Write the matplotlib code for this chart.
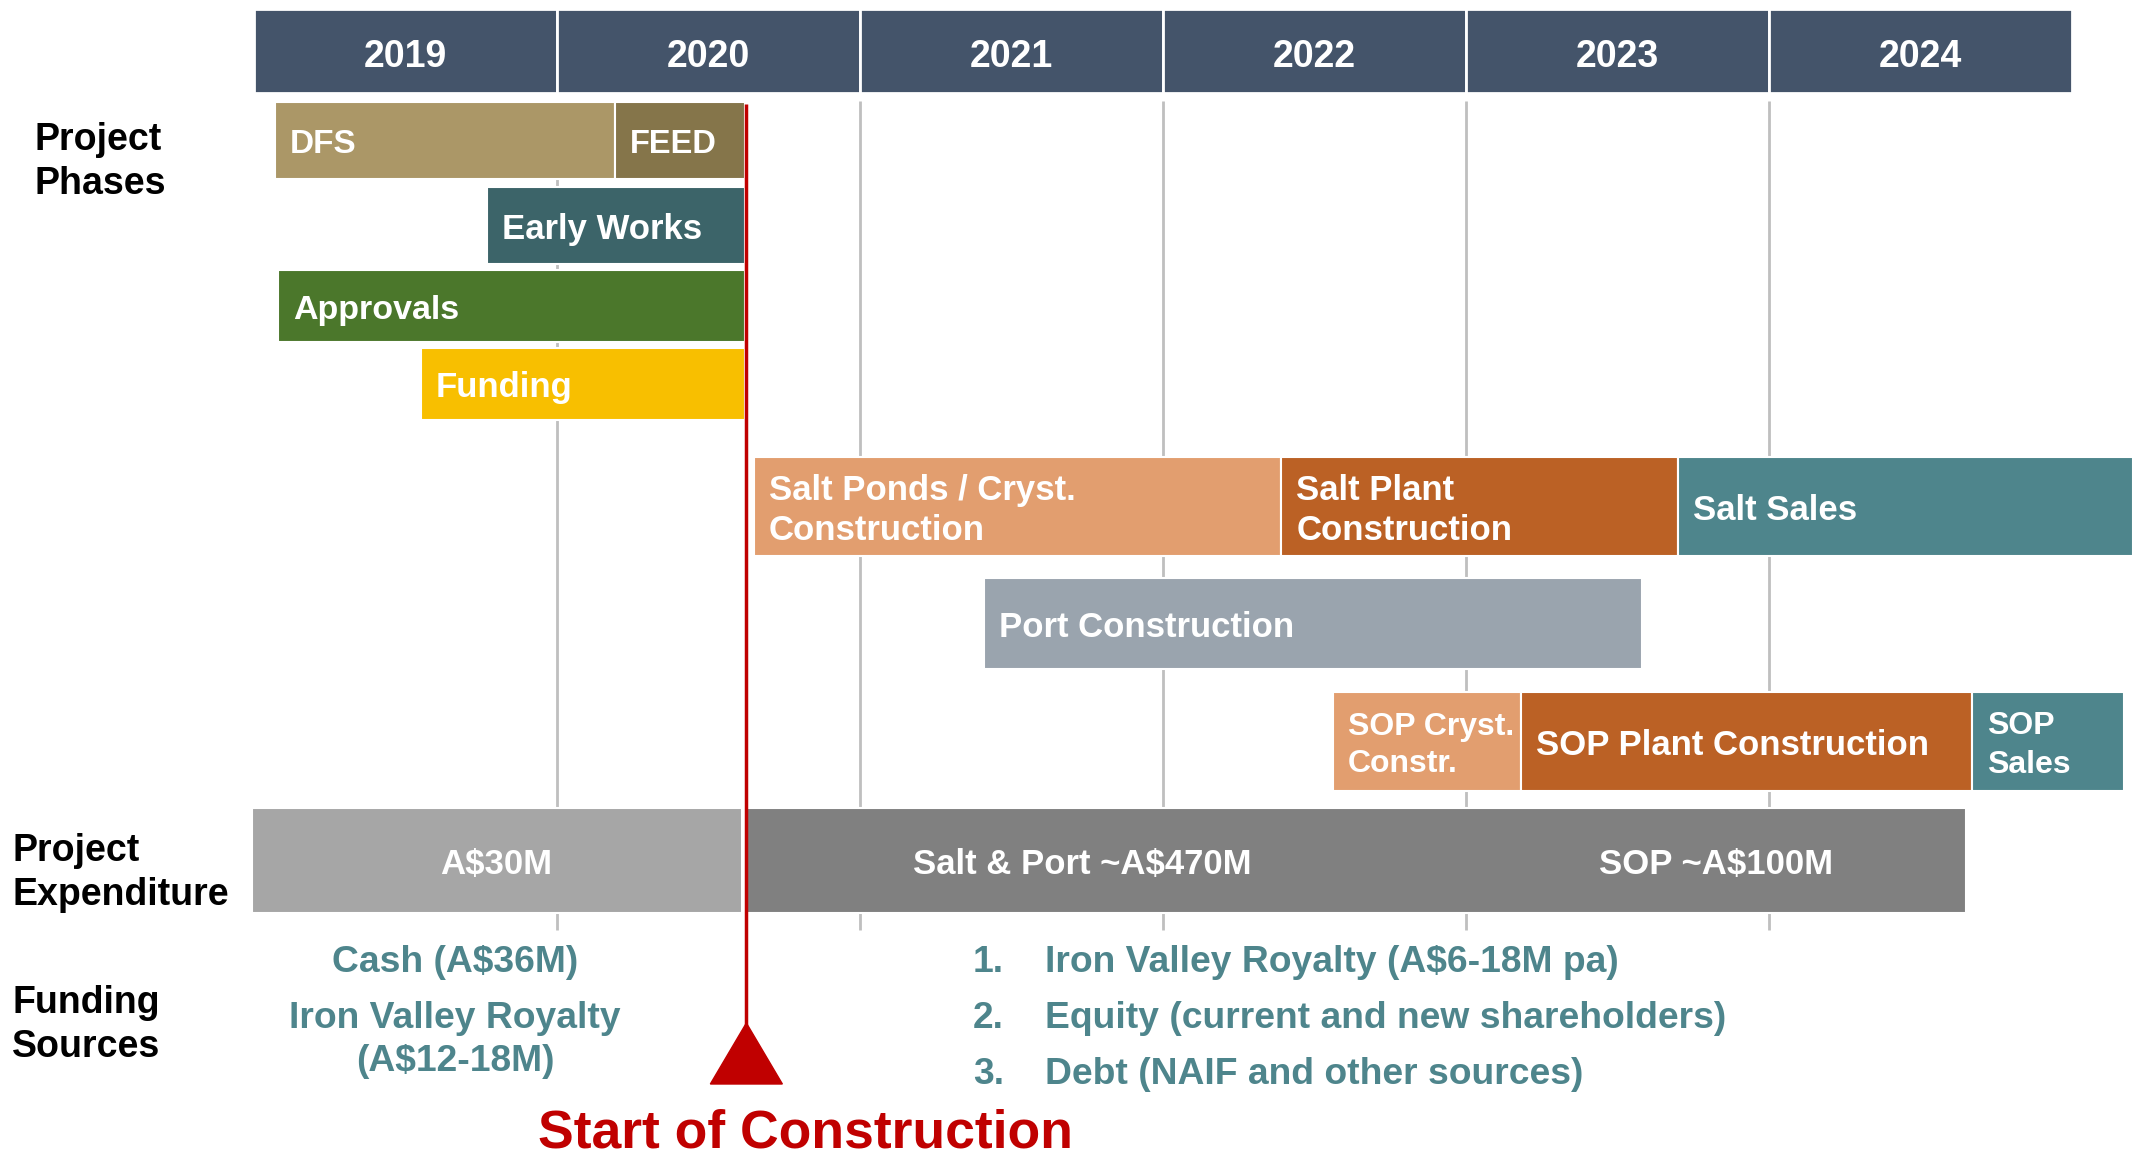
import matplotlib
matplotlib.use("Agg")
import matplotlib.pyplot as plt
from matplotlib.patches import Polygon

plt.rcParams['font.family'] = ['Liberation Sans', 'DejaVu Sans']
plt.rcParams['font.weight'] = 'bold'

# ---------------- data ----------------
years = [2019, 2020, 2021, 2022, 2023, 2024]

phase_labels = ["DFS", "FEED", "Early Works", "Approvals", "Funding",
                "Salt Ponds / Cryst.\nConstruction", "Salt Plant\nConstruction", "Salt Sales",
                "Port Construction",
                "SOP Cryst.\nConstr.", "SOP Plant Construction", "SOP\nSales"]
phase_start = [2019.07, 2020.19, 2019.77, 2019.08, 2019.55,
               2020.65, 2022.39, 2023.70,
               2021.41,
               2022.56, 2023.18, 2024.67]
phase_end = [2020.19, 2020.62, 2020.62, 2020.62, 2020.62,
             2022.39, 2023.70, 2025.20,
             2023.58,
             2023.18, 2024.67, 2025.17]
phase_row = [0, 0, 1, 2, 3, 4, 4, 4, 5, 6, 6, 6]
phase_colors = ["#AB9767", "#85754A", "#3C6469", "#4B772B", "#F8BF00",
                "#E29E6F", "#BB6125", "#4E858C",
                "#9AA4AE",
                "#E29E6F", "#BB6125", "#4E858C"]
phase_fontsize = [24, 23.5, 25, 24.5, 25, 25, 25, 25, 25, 23, 25, 23]
phase_linespacing = [1.3, 1.3, 1.3, 1.3, 1.3, 1.3, 1.3, 1.3, 1.3, 1.3, 1.3, 1.42]

exp_labels = ["A$30M", "Salt & Port ~A$470M", "SOP ~A$100M"]
exp_start = [2018.995, 2020.625]
exp_end = [2020.61, 2024.65]
exp_colors = ["#A6A6A6", "#808080"]
exp_label_x = [2019.80, 2021.735, 2023.825]

construction_start = 2020.625

funding_early = ["Cash (A$36M)", "Iron Valley Royalty\n(A$12-18M)"]
funding_later_nums = ["1.", "2.", "3."]
funding_later = ["Iron Valley Royalty (A$6-18M pa)",
                 "Equity (current and new shareholders)",
                 "Debt (NAIF and other sources)"]

# ---------------- layout ----------------
W, H = 2140, 1156
X0_PX, YEAR_PX = 254, 303
def px2yr(px):
    return 2019 + (px - X0_PX) / YEAR_PX

row_top = [102, 187, 270, 348, 457, 578, 692]
row_bot = [179, 264, 342, 420, 556, 669, 791]

fig = plt.figure(figsize=(W / 100, H / 100), dpi=100)
ax = fig.add_axes([0, 0, 1, 1])
ax.set_xlim(px2yr(0), px2yr(W))
ax.set_ylim(H, 0)
ax.axis('off')

# header
ax.barh(51, 1, left=years, height=84, align='center', color="#44546A",
        edgecolor='white', linewidth=2, zorder=2)
for y in years:
    ax.text(y + 0.5, 57, str(y), color='white', fontsize=27, ha='center', va='center', zorder=3)

# gridlines
ax.vlines(years[1:], 101, 930, color="#BFBFBF", linewidth=2, zorder=0)

# phase bars
for lab, s, e, r, c, fs, ls in zip(phase_labels, phase_start, phase_end, phase_row,
                                   phase_colors, phase_fontsize, phase_linespacing):
    yc = (row_top[r] + row_bot[r]) / 2
    h = row_bot[r] - row_top[r]
    ax.barh(yc, e - s, left=s, height=h, color=c, edgecolor='white', linewidth=1.5, zorder=2)
    ax.text(s + 15 / YEAR_PX, yc + 4, lab, color='white', fontsize=fs, ha='left',
            va='center', linespacing=ls, zorder=3)

# expenditure bar
ey0, ey1 = 808, 913
eyc = (ey0 + ey1) / 2
for s, e, c in zip(exp_start, exp_end, exp_colors):
    ax.barh(eyc, e - s, left=s, height=ey1 - ey0, color=c, edgecolor='white',
            linewidth=1.5, zorder=2)
for lab, x in zip(exp_labels, exp_label_x):
    ax.text(x, eyc + 4, lab, color='white', fontsize=25, ha='center', va='center', zorder=3)

# left labels
ax.text(px2yr(34), 162, "Project\nPhases", color='black', fontsize=27, ha='left',
        va='center', linespacing=1.28)
ax.text(px2yr(12), 873, "Project\nExpenditure", color='black', fontsize=27, ha='left',
        va='center', linespacing=1.28)
ax.text(px2yr(12), 1025, "Funding\nSources", color='black', fontsize=27, ha='left',
        va='center', linespacing=1.28)

# funding sources
teal = "#4E858C"
ax.text(px2yr(455), 962, funding_early[0], color=teal, fontsize=26.8, ha='center', va='center')
ax.text(px2yr(455), 1040, funding_early[1], color=teal, fontsize=26.8, ha='center',
        va='center', linespacing=1.3)
for i, (n, t) in enumerate(zip(funding_later_nums, funding_later)):
    yy = 963 + i * 55.5
    ax.text(px2yr(973), yy, n, color=teal, fontsize=26.8, ha='left', va='center')
    ax.text(px2yr(1045), yy, t, color=teal, fontsize=26.8, ha='left', va='center')

# start of construction marker
red = "#C00000"
ax.vlines(construction_start, 104, 1030, color=red, linewidth=2.5, zorder=5)
hw = 36 / YEAR_PX
tri = Polygon([[construction_start, 1023], [construction_start - hw, 1084],
               [construction_start + hw, 1084]], closed=True, color=red, zorder=5)
ax.add_patch(tri)
ax.text(px2yr(806), 1148, "Start of Construction", color=red, fontsize=38.5,
        ha='center', va='baseline')

fig.savefig("out.png", dpi=100)
